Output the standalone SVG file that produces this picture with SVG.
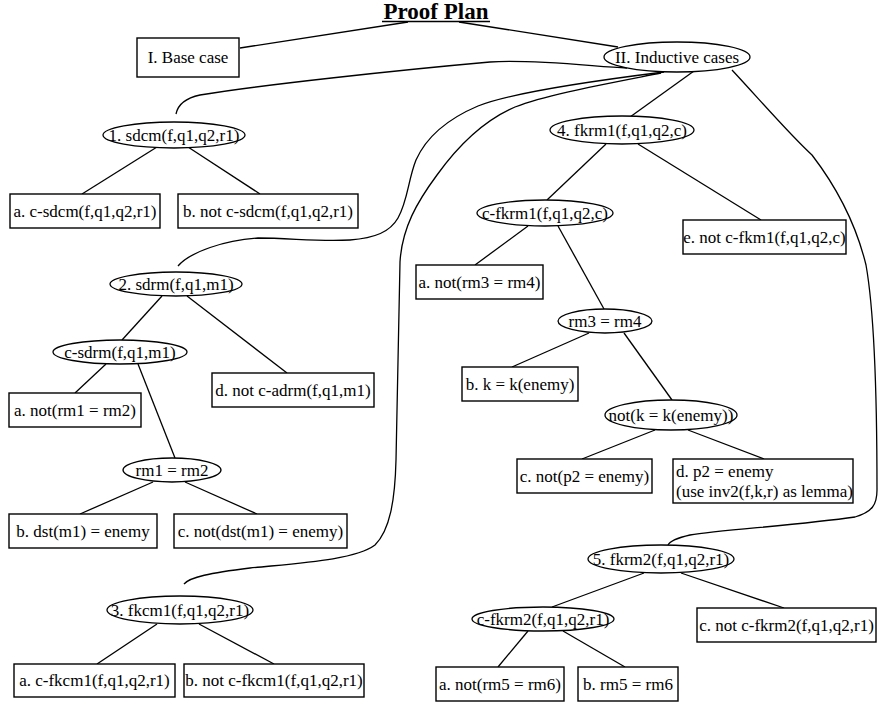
<svg xmlns="http://www.w3.org/2000/svg" width="878" height="704" viewBox="0 0 878 704">
<style>
rect{fill:#fff;stroke:#000;stroke-width:1.4}
ellipse{fill:#fff;stroke:#000;stroke-width:1.3}
text{font-family:"Liberation Serif","Times New Roman",serif;font-size:17px;fill:#000;text-anchor:middle}
text.l{text-anchor:start}
.e path,.e line{fill:none;stroke:#000;stroke-width:1.3}
</style>
<rect x="0" y="0" width="878" height="704" style="fill:#fff;stroke:none"/>
<g id="title">
<text x="436" y="19" style="font-size:23px;font-weight:bold">Proof Plan</text>
<line x1="382" y1="21.5" x2="490" y2="21.5" style="stroke:#000;stroke-width:1.6"/>
</g>
<g class="e" id="connectors">
<line x1="408" y1="22" x2="240" y2="48"/>
<line x1="459" y1="22" x2="618" y2="47"/>
<path d="M627,68 C590,66 530,59 490,62 C400,70 260,85 200,95 C186,98 178,104 176,114"/>
<path d="M664,72 C600,80 510,93 478,106 C445,120 425,140 416,160 C408,180 408,200 398,218 C390,232 375,238 350,240 C320,242 290,238 258,238 C225,240 190,252 178,266"/>
<path d="M661,73 C600,85 545,95 515,107 C480,122 455,150 437,175 C417,202 402,228 400,262 L396,460 C395,500 390,530 375,545 C355,560 300,563 250,568 C210,573 190,577 184,584"/>
<path d="M732,70 C760,100 790,135 812,155 C835,185 855,220 866,265 C874,310 877,400 877,490 C877,505 872,512 855,517 C800,525 720,530 690,535 C677,538 670,541 668,545"/>
<line x1="694" y1="71" x2="630" y2="117"/>
<line x1="157" y1="147" x2="82" y2="194"/>
<line x1="188" y1="147" x2="260" y2="194"/>
<line x1="162" y1="296" x2="122" y2="340"/>
<line x1="187" y1="296" x2="287" y2="373"/>
<line x1="106" y1="364" x2="75" y2="393"/>
<line x1="138" y1="364" x2="175" y2="458"/>
<line x1="153" y1="482" x2="80" y2="514"/>
<line x1="185" y1="482" x2="257" y2="514"/>
<line x1="157" y1="624" x2="97" y2="664"/>
<line x1="199" y1="624" x2="274" y2="664"/>
<line x1="606" y1="144" x2="547" y2="200"/>
<line x1="638" y1="144" x2="761" y2="220"/>
<line x1="528" y1="226" x2="475" y2="265"/>
<line x1="558" y1="226" x2="604" y2="309"/>
<line x1="589" y1="333" x2="512" y2="367"/>
<line x1="624" y1="333" x2="672" y2="400"/>
<line x1="655" y1="430" x2="582" y2="459"/>
<line x1="688" y1="430" x2="764" y2="459"/>
<line x1="644" y1="573" x2="552" y2="607"/>
<line x1="681" y1="573" x2="784" y2="608"/>
<line x1="528" y1="631" x2="498" y2="667"/>
<line x1="563" y1="631" x2="625" y2="667"/>
</g>
<g id="base"><rect x="137" y="38" width="102" height="39"/><text x="188" y="63">I. Base case</text></g>
<g id="inductive"><ellipse cx="677" cy="57" rx="73" ry="15"/><text x="677" y="63">II. Inductive cases</text></g>
<g id="sdcm"><ellipse cx="174" cy="135" rx="71" ry="13"/><text x="174" y="141">1. sdcm(f,q1,q2,r1)</text></g>
<g id="sdcm-a"><rect x="10" y="194" width="150" height="34"/><text x="85" y="217">a. c-sdcm(f,q1,q2,r1)</text></g>
<g id="sdcm-b"><rect x="178" y="194" width="180" height="34"/><text x="268" y="217">b. not c-sdcm(f,q1,q2,r1)</text></g>
<g id="sdrm"><ellipse cx="176" cy="284" rx="66" ry="12"/><text x="176" y="290">2. sdrm(f,q1,m1)</text></g>
<g id="c-sdrm"><ellipse cx="120" cy="352" rx="67" ry="12"/><text x="120" y="358">c-sdrm(f,q1,m1)</text></g>
<g id="sdrm-d"><rect x="212" y="373" width="162" height="34"/><text x="293" y="396">d. not c-adrm(f,q1,m1)</text></g>
<g id="sdrm-a"><rect x="9" y="393" width="132" height="34"/><text x="75" y="416">a. not(rm1 = rm2)</text></g>
<g id="rm1rm2"><ellipse cx="172" cy="470" rx="49" ry="12"/><text x="172" y="476">rm1 = rm2</text></g>
<g id="sdrm-b"><rect x="9" y="514" width="148" height="34"/><text x="83" y="537">b. dst(m1) = enemy</text></g>
<g id="sdrm-c"><rect x="174" y="514" width="173" height="34"/><text x="260.5" y="537">c. not(dst(m1) = enemy)</text></g>
<g id="fkcm1"><ellipse cx="180" cy="610" rx="73" ry="14"/><text x="180" y="616">3. fkcm1(f,q1,q2,r1)</text></g>
<g id="fkcm1-a"><rect x="14" y="664" width="161" height="33"/><text x="94.5" y="686">a. c-fkcm1(f,q1,q2,r1)</text></g>
<g id="fkcm1-b"><rect x="184" y="664" width="180" height="33"/><text x="274" y="686">b. not c-fkcm1(f,q1,q2,r1)</text></g>
<g id="fkrm1"><ellipse cx="622" cy="130" rx="72" ry="14"/><text x="622" y="136">4. fkrm1(f,q1,q2,c)</text></g>
<g id="c-fkrm1"><ellipse cx="545" cy="213" rx="68" ry="13"/><text x="545" y="219">c-fkrm1(f,q1,q2,c)</text></g>
<g id="fkrm1-e"><rect x="683" y="220" width="163" height="34"/><text x="764.5" y="243">e. not c-fkm1(f,q1,q2,c)</text></g>
<g id="fkrm1-a"><rect x="416" y="265" width="127" height="34"/><text x="479.5" y="288">a. not(rm3 = rm4)</text></g>
<g id="rm3rm4"><ellipse cx="605" cy="321" rx="47" ry="12"/><text x="605" y="327">rm3 = rm4</text></g>
<g id="fkrm1-b"><rect x="462" y="367" width="116" height="34"/><text x="520" y="390">b. k = k(enemy)</text></g>
<g id="notk"><ellipse cx="671" cy="415" rx="66" ry="15"/><text x="671" y="421">not(k = k(enemy))</text></g>
<g id="fkrm1-c"><rect x="517" y="459" width="135" height="34"/><text x="584.5" y="482">c. not(p2 = enemy)</text></g>
<g id="fkrm1-d"><rect x="673" y="459" width="180" height="44"/><text class="l" x="676" y="477">d. p2 = enemy</text><text class="l" x="676" y="497">(use inv2(f,k,r) as lemma)</text></g>
<g id="fkrm2"><ellipse cx="661" cy="559" rx="73" ry="14"/><text x="661" y="565">5. fkrm2(f,q1,q2,r1)</text></g>
<g id="c-fkrm2"><ellipse cx="543" cy="619" rx="71" ry="12"/><text x="543" y="625">c-fkrm2(f,q1,q2,r1)</text></g>
<g id="fkrm2-c"><rect x="697" y="608" width="179" height="34"/><text x="786.5" y="631">c. not c-fkrm2(f,q1,q2,r1)</text></g>
<g id="fkrm2-a"><rect x="436" y="667" width="128" height="34"/><text x="500" y="690">a. not(rm5 = rm6)</text></g>
<g id="fkrm2-b"><rect x="578" y="667" width="100" height="34"/><text x="628" y="690">b. rm5 = rm6</text></g>
</svg>
